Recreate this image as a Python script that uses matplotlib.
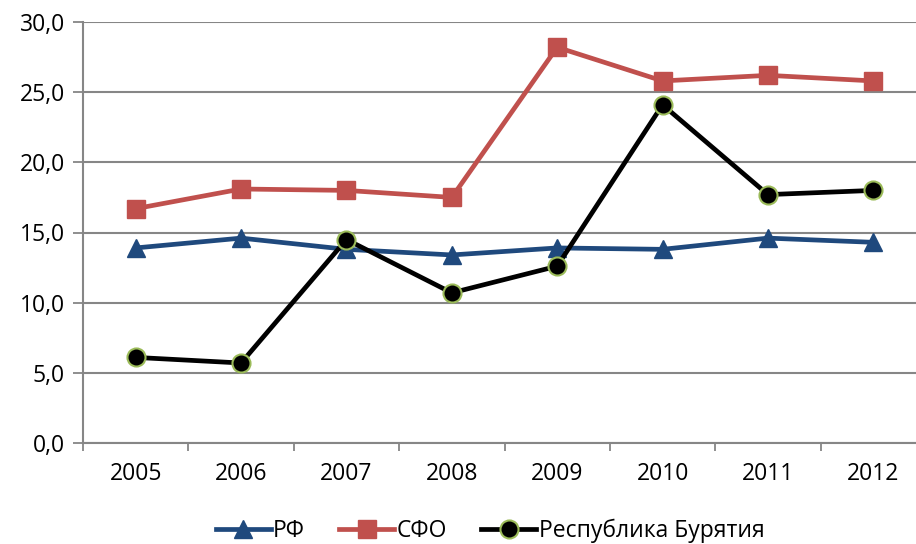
import matplotlib
matplotlib.use("Agg")
import matplotlib.pyplot as plt
from matplotlib.ticker import FuncFormatter

# данные
years = ["2005", "2006", "2007", "2008", "2009", "2010", "2011", "2012"]
rf = [13.9, 14.6, 13.8, 13.4, 13.9, 13.8, 14.6, 14.3]
sfo = [16.7, 18.1, 18.0, 17.5, 28.2, 25.8, 26.2, 25.8]
buryatia = [6.1, 5.7, 14.5, 10.7, 12.6, 24.1, 17.7, 18.0]

plt.rcParams['font.family'] = ['Open Sans', 'DejaVu Sans']

fig = plt.figure(figsize=(9.16, 5.44), dpi=100)
ax = fig.add_axes([83/916, 101/544, 843/916, 421/544])

x = range(len(years))
ax.plot(x, rf, color="#1F497D", lw=3.4, marker="^", ms=13, label="РФ", zorder=3)
ax.plot(x, sfo, color="#C0504D", lw=3.4, marker="s", ms=13, label="СФО", zorder=3)
ax.plot(x, buryatia, color="black", lw=3.4, marker="o", ms=13, mfc="black",
        mec="#9BBB59", mew=1.5, label="Республика Бурятия", zorder=4)

ax.set_xlim(-0.5, len(years) - 0.5)
ax.set_ylim(0, 30)
ax.set_yticks(range(0, 31, 5))
ax.yaxis.set_major_formatter(FuncFormatter(lambda v, p: f"{v:.1f}".replace(".", ",")))
ax.set_xticks(x)
ax.set_xticklabels(years)
ax.set_xticks([i - 0.5 for i in range(len(years) + 1)], minor=True)
ax.tick_params(axis="x", which="major", length=0, pad=14, labelsize=16.5)
ax.tick_params(axis="x", which="minor", length=6, color="#868686", width=1.3)
ax.tick_params(axis="y", length=7, color="#868686", width=1.3, labelsize=16.5, pad=6)

ax.grid(axis="y", color="#868686", lw=1.5)
ax.set_axisbelow(True)
for s in ["top", "right"]:
    ax.spines[s].set_visible(False)
for s in ["left", "bottom"]:
    ax.spines[s].set_color("#868686")
    ax.spines[s].set_linewidth(1.5)

fig.legend(loc="center", bbox_to_anchor=(0.535, 1 - 531/544), ncol=3, frameon=False,
           fontsize=16.5, handlelength=2.4, columnspacing=1.5, handletextpad=0.1)

fig.savefig("out.png", dpi=100)
